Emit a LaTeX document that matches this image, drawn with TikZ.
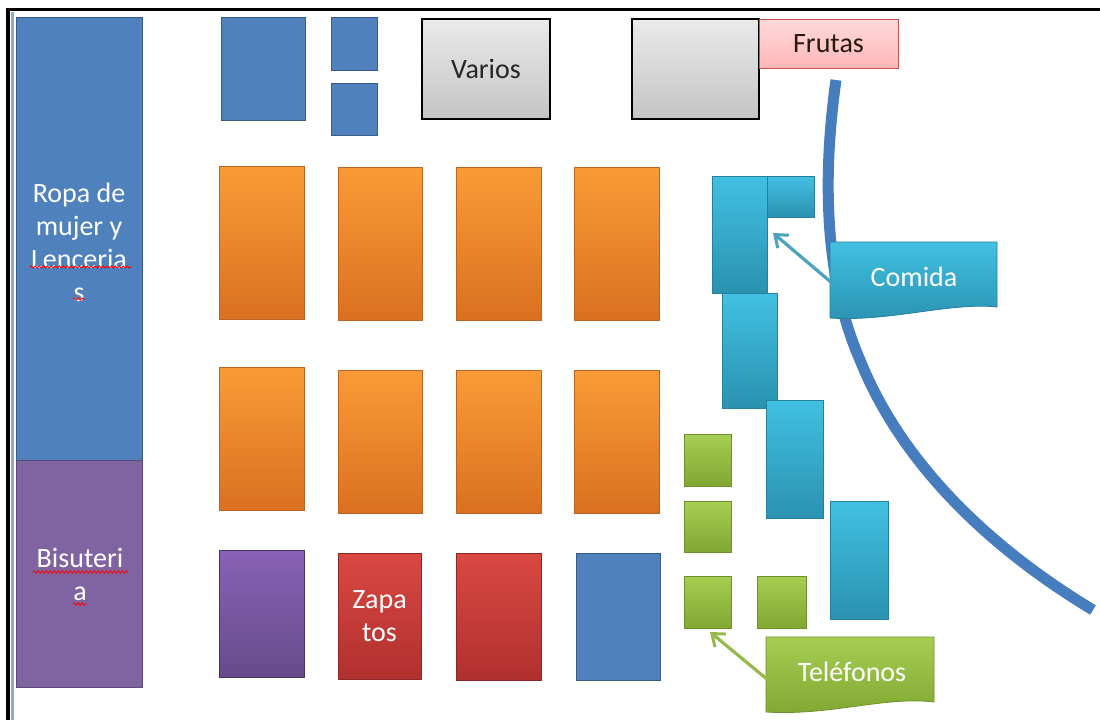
\documentclass[tikz,border=0pt]{standalone}
\usepackage{fontspec}
\setmainfont{Carlito}
\usetikzlibrary{decorations.pathmorphing,arrows.meta}
\definecolor{mblue}{RGB}{79,129,189}
\definecolor{mbluedk}{RGB}{56,93,138}
\definecolor{mpurp}{RGB}{128,100,162}
\definecolor{mpurpdk}{RGB}{92,72,122}
\definecolor{orgT}{RGB}{250,155,55}
\definecolor{orgB}{RGB}{218,112,32}
\definecolor{orgE}{RGB}{185,100,35}
\definecolor{cyaT}{RGB}{66,192,226}
\definecolor{cyaB}{RGB}{42,146,176}
\definecolor{cyaE}{RGB}{38,128,155}
\definecolor{grnT}{RGB}{166,206,82}
\definecolor{grnB}{RGB}{128,168,50}
\definecolor{grnE}{RGB}{110,145,45}
\definecolor{redT}{RGB}{218,72,66}
\definecolor{redB}{RGB}{176,48,46}
\definecolor{redE}{RGB}{140,40,40}
\definecolor{prpT}{RGB}{138,98,182}
\definecolor{prpB}{RGB}{102,74,138}
\definecolor{gryT}{RGB}{234,234,234}
\definecolor{gryB}{RGB}{196,196,196}
\definecolor{pnkT}{RGB}{255,218,218}
\definecolor{pnkB}{RGB}{255,182,182}
\definecolor{pnkE}{RGB}{205,80,80}
\definecolor{arcblue}{RGB}{70,125,190}
\definecolor{thinblue}{RGB}{140,170,212}
\tikzset{
  blk/.style={inner sep=0pt, outer sep=0pt, font=\fontsize{28}{33}\selectfont, text=white, align=center},
  bluebox/.style={blk, fill=mblue, draw=mbluedk, line width=1pt},
  bigpurp/.style={blk, fill=mpurp, draw=mpurpdk, line width=1pt},
  orangebox/.style={blk, top color=orgT, bottom color=orgB, draw=orgE, line width=0.8pt},
  cyanbox/.style={blk, top color=cyaT, bottom color=cyaB, draw=cyaE, line width=0.8pt},
  greenbox/.style={blk, top color=grnT, bottom color=grnB, draw=grnE, line width=0.8pt},
  redbox/.style={blk, top color=redT, bottom color=redB, draw=redE, line width=0.8pt},
  purpbox/.style={blk, top color=prpT, bottom color=prpB, draw=prpB!70!black, line width=0.8pt},
  graybox/.style={blk, top color=gryT, bottom color=gryB, draw=black, line width=1.6pt, text=black!85},
  pinkbox/.style={blk, top color=pnkT, bottom color=pnkB, draw=pnkE, line width=1pt, text=black!80!brown},
  spell/.style={red, line width=0.9pt, decorate, decoration={snake, segment length=4pt, amplitude=1.1pt}},
  lbl/.style={font=\fontsize{28}{33}\selectfont, text=white, inner sep=0pt},
  callarrow/.style={line width=3.2pt, -{Straight Barb[length=11pt,width=17pt,line width=3pt]}}
}
\begin{document}
\begin{tikzpicture}[x=1pt,y=-1pt]
\useasboundingbox (0,0) rectangle (1100,720);
\fill[white] (0,0) rectangle (1100,720);
% frame
\draw[black, line width=3.5pt] (7,9.5) -- (1100,9.5);
\draw[black, line width=4pt] (8,8) -- (8,720);
\draw[thinblue, line width=3pt] (12.5,12) -- (12.5,720);

% left column
\node[bluebox, minimum width=126, minimum height=443] (ropa) at (79.5,238.5) {};
\node[bigpurp, minimum width=126, minimum height=227] (bisu) at (79.5,573.5) {};
\node[lbl, align=center] (ropat) at (79,242) {Ropa de\\mujer y\\Lenceria\\s};
\node[lbl, align=center] (bisut) at (80,574) {Bisuteri\\a};
\draw[spell] (30,267) -- (131,267);
\draw[spell] (73,299) -- (85,299);
\draw[spell] (33,572) -- (128,572);
\draw[spell] (73,604) -- (87,604);

% top row
\node[bluebox, minimum width=84, minimum height=103] (tb1) at (263,68.5) {};
\node[bluebox, minimum width=46, minimum height=53] (tb2) at (354,43.5) {};
\node[bluebox, minimum width=46, minimum height=52] (tb3) at (354,109) {};
\node[graybox, minimum width=128, minimum height=100] (varios) at (486,69) {Varios};
\node[graybox, minimum width=127, minimum height=100] (gris) at (695.5,69) {};
\node[pinkbox, minimum width=139, minimum height=49, anchor=north west] (frutas) at (759,19) {Frutas};

% orange rows
\node[orangebox, minimum width=85, minimum height=153] (o11) at (261.5,242.5) {};
\node[orangebox, minimum width=84, minimum height=153] (o12) at (380,243.5) {};
\node[orangebox, minimum width=85, minimum height=153] (o13) at (498.5,243.5) {};
\node[orangebox, minimum width=85, minimum height=153] (o14) at (616.5,243.5) {};
\node[orangebox, minimum width=85, minimum height=143] (o21) at (261.5,438.5) {};
\node[orangebox, minimum width=84, minimum height=143] (o22) at (380,441.5) {};
\node[orangebox, minimum width=85, minimum height=143] (o23) at (498.5,441.5) {};
\node[orangebox, minimum width=85, minimum height=143] (o24) at (616.5,441.5) {};

% bottom row
\node[purpbox, minimum width=85, minimum height=127] (p31) at (261.5,613.5) {};
\node[redbox, minimum width=83, minimum height=126] (zapatos) at (379.5,616) {Zapa\\tos};
\node[redbox, minimum width=85, minimum height=127] (r33) at (498.5,616.5) {};
\node[bluebox, minimum width=84, minimum height=127] (b34) at (618,616.5) {};

% cyan (comida)
\node[cyanbox, minimum width=55, minimum height=117] (c1) at (739.5,234.5) {};
\node[cyanbox, minimum width=47, minimum height=41] (c2) at (790.5,196.5) {};
\node[cyanbox, minimum width=55, minimum height=115] (c3) at (749.5,350.5) {};
\node[cyanbox, minimum width=57, minimum height=118] (c4) at (794.5,459) {};
\node[cyanbox, minimum width=58, minimum height=118] (c5) at (859,560) {};

% green (telefonos)
\node[greenbox, minimum width=47, minimum height=52] (g1) at (707.5,460) {};
\node[greenbox, minimum width=47, minimum height=51] (g2) at (707.5,526.5) {};
\node[greenbox, minimum width=47, minimum height=52] (g3) at (707.5,602) {};
\node[greenbox, minimum width=49, minimum height=52] (g4) at (781.5,602) {};

% walkway arc
\coordinate (arcA) at (836,80);
\coordinate (arcM) at (860,360);
\coordinate (arcB) at (1093,610);
\draw[arcblue, line width=11pt] (arcA) .. controls (822,180) and (825,280) .. (arcM)
  .. controls (900,460) and (985,545) .. (arcB);

% Comida callout
\shade[top color=cyaT, bottom color=cyaB, draw=cyaE, line width=0.8pt]
  (830,242) -- (997,242) -- (997,307) .. controls (950,302) and (890,322) .. (830,318) -- cycle;
\node[lbl] (comida) at (914,277) {Comida};
\coordinate (comidaL) at (832,283);
\coordinate (ccorner) at (773,233);
\draw[callarrow, color=cyaB!85!white] (comidaL) -- (ccorner);

% Telefonos callout
\shade[top color=grnT, bottom color=grnB, draw=grnE, line width=0.8pt]
  (766,637) -- (934,637) -- (934,702) .. controls (885,696) and (830,716) .. (766,712) -- cycle;
\node[lbl] (telefonos) at (852,672) {Teléfonos};
\coordinate (telL) at (768,680);
\coordinate (gcorner) at (710,632);
\draw[callarrow, color=grnT!90!black] (telL) -- (gcorner);
\end{tikzpicture}
\end{document}
